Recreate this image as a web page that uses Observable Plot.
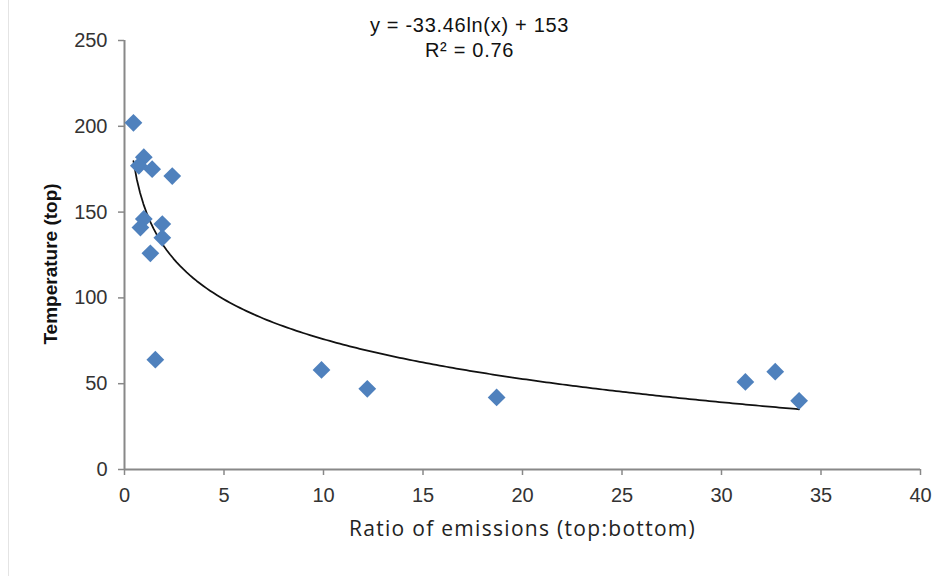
<!DOCTYPE html>
<html>
<head>
<meta charset="utf-8">
<script src="https://cdn.jsdelivr.net/npm/d3@7"></script>
<script src="https://cdn.jsdelivr.net/npm/@observablehq/plot@0.6"></script>
<style>
  body { margin: 0; background: #fff; }
  #wrap { position: relative; width: 952px; height: 576px; }
  #edge { position: absolute; left: 8px; top: 0; width: 1px; height: 576px; background: #e4e4e4; }
</style>
</head>
<body>
<div id="wrap"><div id="edge"></div><div id="chart"></div></div>
<script>
// Ratio of emissions (top:bottom)
const ratio = [0.45, 0.97, 0.72, 1.39, 2.4, 0.97, 0.8, 1.9, 1.9, 1.3, 1.55, 9.9, 12.2, 18.7, 31.2, 32.7, 33.9];
// Temperature (top)
const temperature = [202, 182, 177, 175, 171, 146, 141, 143, 135, 126, 64, 58, 47, 42, 51, 57, 40];
const xTicks = [0, 5, 10, 15, 20, 25, 30, 35, 40];
const yTicks = [0, 50, 100, 150, 200, 250];
// Logarithmic trendline: y = a*ln(x) + b
const trendA = -33.46;
const trendB = 153;
const trendR2 = 0.76;
const xTitle = "Ratio of emissions (top:bottom)";
const yTitle = "Temperature (top)";

const points = ratio.map((r, i) => ({ratio: r, temperature: temperature[i]}));
const xMin = d3.min(ratio), xMax = d3.max(ratio);
const trend = d3.range(0, 201).map(i => {
  const x = xMin + (xMax - xMin) * i / 200;
  return {ratio: x, temperature: trendA * Math.log(x) + trendB};
});
const eqText = `y = ${trendA}ln(x) + ${trendB}\nR² = ${trendR2}`;

const chart = Plot.plot({
  width: 952,
  height: 576,
  marginLeft: 124,
  marginRight: 32,
  marginTop: 40,
  marginBottom: 107,
  style: {fontFamily: "'Liberation Sans', Arial, sans-serif", background: "transparent"},
  x: {domain: [0, 40]},
  y: {domain: [0, 250]},
  marks: [
    Plot.axisX({ticks: xTicks, tickSize: 6, tickPadding: 12, fontSize: 20, stroke: "#888", strokeWidth: 1.5, fill: "#333", label: null}),
    Plot.axisY({ticks: yTicks, tickSize: 6, tickPadding: 11, fontSize: 20, stroke: "#888", strokeWidth: 1.5, fill: "#333", label: null}),
    Plot.ruleX([0], {stroke: "#888", strokeWidth: 2}),
    Plot.ruleY([0], {stroke: "#888", strokeWidth: 2}),
    Plot.line(trend, {x: "ratio", y: "temperature", stroke: "#111", strokeWidth: 1.75, curve: "linear"}),
    Plot.dot(points, {x: "ratio", y: "temperature", symbol: "diamond2", r: 8, fill: "#4F81BD", stroke: "none"}),
    Plot.text([eqText], {frameAnchor: "top", dx: -53, dy: -26, lineAnchor: "top", lineHeight: 1.25, fontSize: 20, fill: "#111", textAnchor: "middle"}),
    Plot.text([yTitle], {frameAnchor: "left", dx: -74, dy: 9, rotate: -90, fontSize: 19, fontWeight: "bold", fill: "#111", textAnchor: "middle"}),
    Plot.text([xTitle], {frameAnchor: "bottom", dy: 66, fontSize: 21, fontFamily: "'Open Sans', Lato, sans-serif", fill: "#222", textAnchor: "middle"})
  ]
});
const svg = d3.select(chart);
svg.selectAll("text").filter(function() { return this.textContent === xTitle; }).style("letter-spacing", "1.3px");
svg.selectAll("text").filter(function() { return this.textContent.startsWith("y ="); }).style("letter-spacing", "0.7px");
document.getElementById("chart").appendChild(chart);
</script>
</body>
</html>
